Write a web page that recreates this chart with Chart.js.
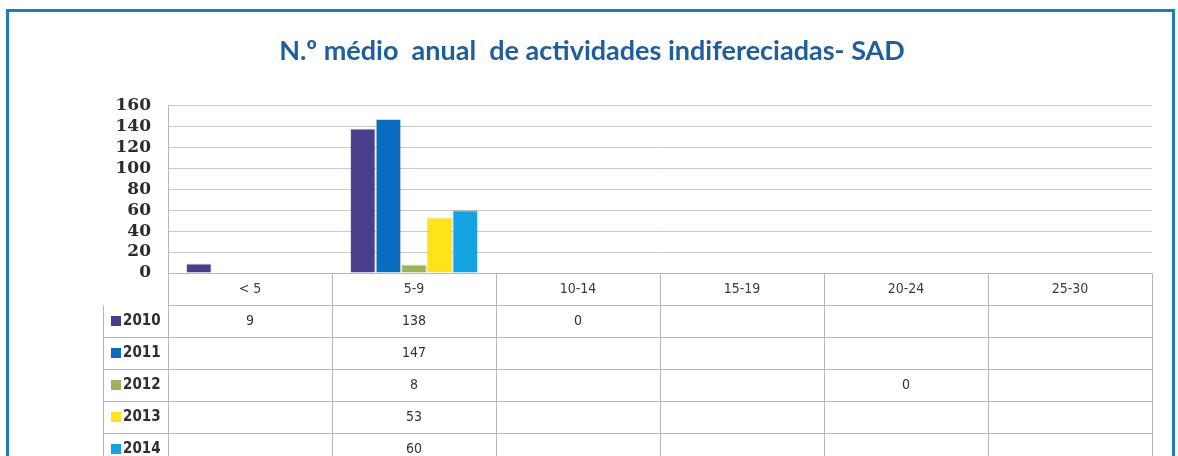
<!DOCTYPE html>
<html>
<head>
<meta charset="utf-8">
<script src="https://cdn.jsdelivr.net/npm/chart.js@4.4.1/dist/chart.umd.min.js"></script>
<style>
  html, body { margin: 0; padding: 0; background: #fff; }
  #wrap { position: relative; width: 1178px; height: 456px; overflow: hidden; }
  #frame {
    position: absolute; left: 6px; top: 9px; width: 1163px; height: 470px;
    border: 3px solid #1b7cc0; pointer-events: none;
  }
  canvas { position: absolute; left: 0; top: 0; }
</style>
</head>
<body>
<div id="wrap">
  <canvas id="chart" width="1178" height="456"></canvas>
  <div id="frame"></div>
</div>
<script>
// categorias e séries
const categories = ['< 5', '5-9', '10-14', '15-19', '20-24', '25-30'];
const years = ['2010', '2011', '2012', '2013', '2014'];
const v2010 = [9, 138, 0, null, null, null];
const v2011 = [null, 147, null, null, null, null];
const v2012 = [null, 8, null, null, 0, null];
const v2013 = [null, 53, null, null, null, null];
const v2014 = [null, 60, null, null, null, null];
const yTicks = [0, 20, 40, 60, 80, 100, 120, 140, 160];

const colors = ['#4a3d8c', '#0a6cc0', '#9bb35a', '#ffe31a', '#14a2e0'];
const series = [v2010, v2011, v2012, v2013, v2014];

// tabela de dados por baixo do gráfico (como no Excel)
const dataTablePlugin = {
    id: 'dataTable',
    afterDraw(chart) {
        const ctx = chart.ctx;
        const area = chart.chartArea;
        const xs = chart.scales.x;
        const rowH = 32;
        const top = area.bottom;
        const half = (area.right - area.left) / categories.length / 2;
        const legendLeft = 103;

        ctx.save();
        ctx.strokeStyle = '#b8b8b8';
        ctx.lineWidth = 1;

        // linhas verticais
        ctx.beginPath();
        categories.forEach((c, i) => {
            const x = Math.round(xs.getPixelForValue(i) - half) + 0.5;
            ctx.moveTo(x, top);
            ctx.lineTo(x, top + rowH * 6);
        });
        const xr = Math.round(area.right) + 0.5;
        ctx.moveTo(xr, top);
        ctx.lineTo(xr, top + rowH * 6);
        ctx.moveTo(legendLeft + 0.5, top + rowH);
        ctx.lineTo(legendLeft + 0.5, top + rowH * 6);
        // linhas horizontais
        for (let r = 1; r <= 5; r++) {
            const y = top + rowH * r + 0.5;
            ctx.moveTo(r === 1 ? area.left : legendLeft, y);
            ctx.lineTo(area.right, y);
        }
        ctx.stroke();

        // cabeçalho
        ctx.textAlign = 'center';
        ctx.textBaseline = 'middle';
        ctx.font = '14px "DejaVu Sans Condensed"';
        ctx.fillStyle = '#3c3c3c';
        categories.forEach((c, i) => {
            ctx.fillText(c, xs.getPixelForValue(i), top + rowH / 2);
        });

        // valores
        series.forEach((vals, r) => {
            const y = top + rowH * (r + 1) + rowH / 2;
            ctx.fillStyle = '#333';
            ctx.textAlign = 'center';
            ctx.font = '14px "DejaVu Sans Condensed"';
            vals.forEach((v, i) => {
                if (v !== null) ctx.fillText(String(v), xs.getPixelForValue(i), y);
            });
            // legenda
            ctx.fillStyle = colors[r];
            ctx.fillRect(legendLeft + 8, y - 5, 10, 10);
            ctx.fillStyle = '#2e2e2e';
            ctx.textAlign = 'left';
            ctx.font = 'bold 15px "DejaVu Sans Condensed"';
            ctx.fillText(years[r], legendLeft + 20, y);
        });
        ctx.restore();
    }
};

const ctx = document.getElementById('chart');
new Chart(ctx.getContext('2d'), {
    type: 'bar',
    data: {
        labels: categories,
        datasets: series.map((vals, i) => ({
            label: years[i],
            data: vals,
            backgroundColor: colors[i],
            borderColor: 'rgba(0,0,0,0.15)',
            borderWidth: 1,
            barPercentage: 1,
            categoryPercentage: 0.78
        }))
    },
    options: {
        responsive: false,
        animation: false,
        // padding esquerdo pequeno para o título ficar centrado como no original
        layout: { padding: { left: 32, right: 26, top: 0, bottom: 183 } },
        plugins: {
            legend: { display: false },
            tooltip: { enabled: false },
            title: {
                display: true,
                text: 'N.º médio  anual  de actividades indifereciadas- SAD',
                color: '#1f5d9c',
                font: { family: 'Lato', size: 27, weight: 'bold' },
                padding: { top: 35, bottom: 38 }
            }
        },
        scales: {
            x: {
                ticks: { display: false },
                grid: { display: false, drawTicks: false },
                border: { display: true, color: '#b8b8b8' }
            },
            y: {
                min: 0,
                max: 160,
                afterBuildTicks: (s) => { s.ticks = yTicks.map(v => ({ value: v })); },
                afterFit: (s) => { s.width = 136; },
                ticks: {
                    autoSkip: false,
                    padding: 17,
                    color: '#2b2b2b',
                    font: { family: 'DejaVu Serif', size: 17, weight: 'bold' }
                },
                grid: { color: '#cbcbcb', drawTicks: false },
                border: { color: '#b8b8b8' }
            }
        }
    },
    plugins: [dataTablePlugin]
});
</script>
</body>
</html>
